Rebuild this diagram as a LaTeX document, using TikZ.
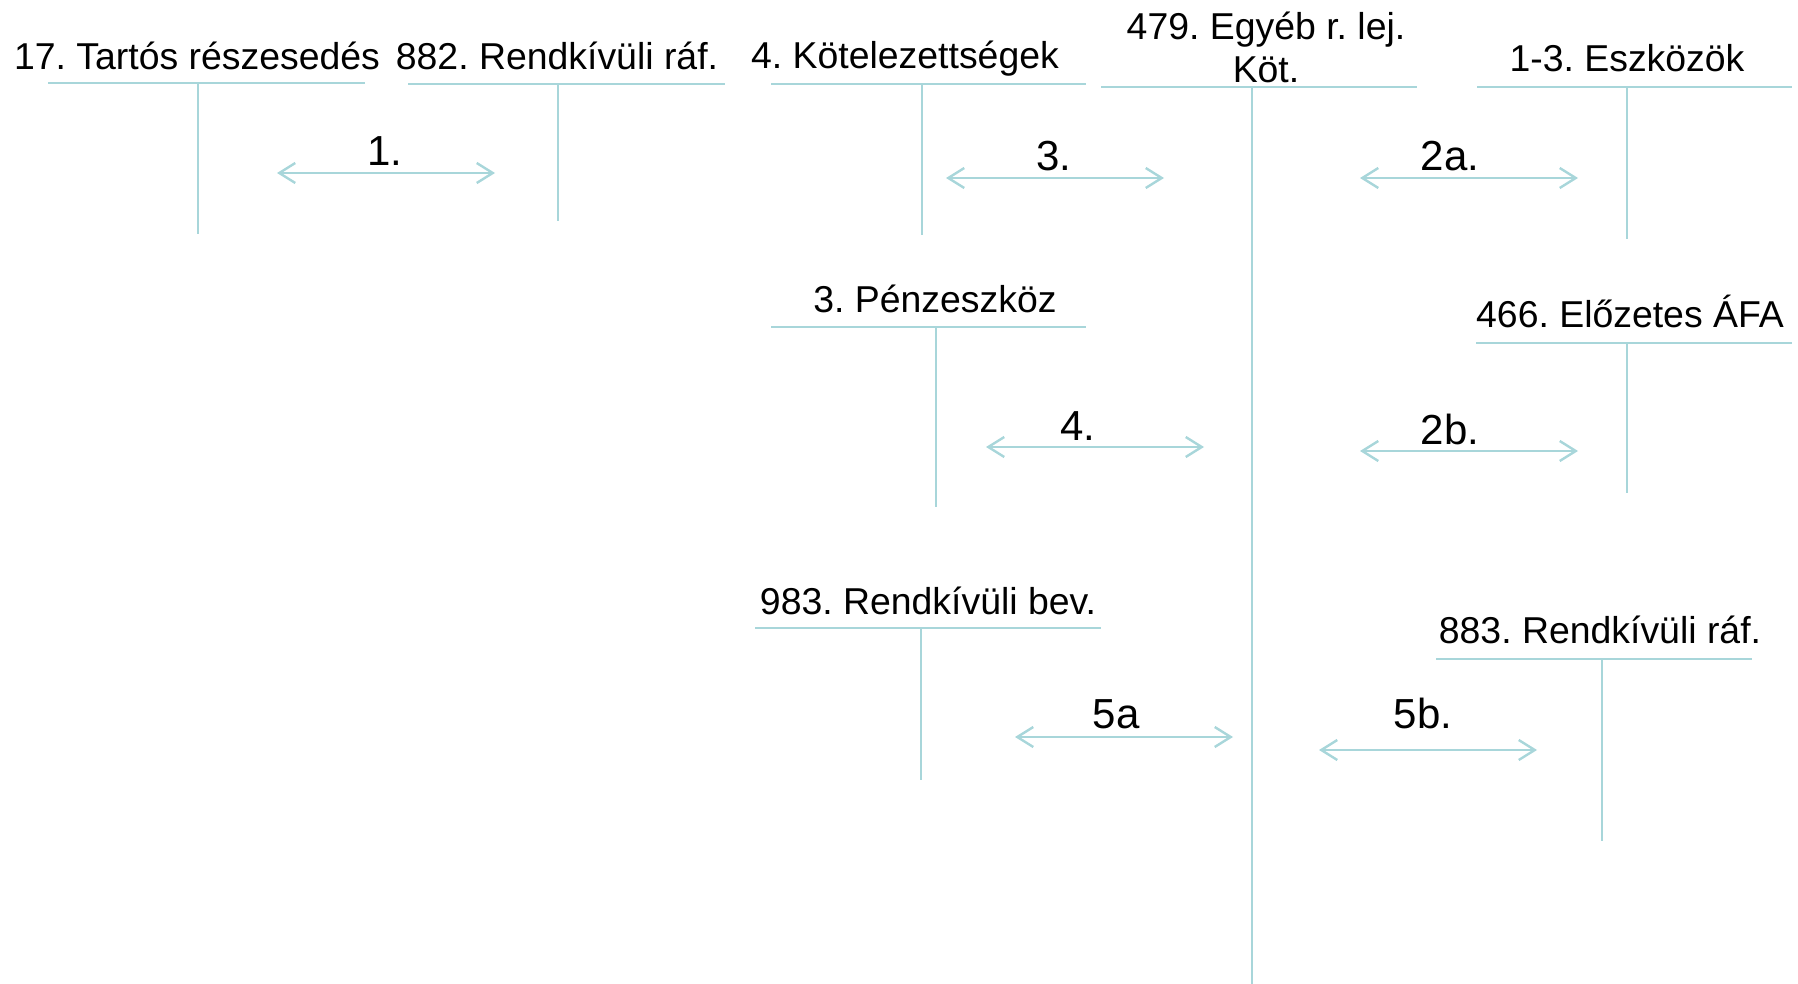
\documentclass[tikz,border=0pt]{standalone}
\usepackage{fontspec}
\setmainfont{Liberation Sans}
\usetikzlibrary{arrows.meta}
\definecolor{tc}{RGB}{168,214,218}
\frenchspacing
\begin{document}
\begin{tikzpicture}[x=0.5pt,y=-0.5pt,
  ttl/.style={font=\fontsize{18.7}{22}\selectfont, anchor=base, inner sep=0pt, text=black},
  lab/.style={font=\fontsize{21}{24}\selectfont, anchor=base, inner sep=0pt, text=black},
  tline/.style={draw=tc, line width=1.1pt},
  flow/.style={draw=tc, line width=1.2pt, {Straight Barb[length=8pt,width=10pt]}-{Straight Barb[length=8pt,width=10pt]}}]
\useasboundingbox (0,0) rectangle (1798,984);

% Account A: 17. Tartos reszesedes
\node[ttl] (tA) at (197,70) {17. Tartós részesedés};
\coordinate (Al) at (48,83); \coordinate (Ar) at (365,83);
\coordinate (At) at (198,83); \coordinate (Ab) at (198,234);
\draw[tline] (Al) -- (Ar); \draw[tline] (At) -- (Ab);

% Account B: 882. Rendkivuli raf.
\node[ttl] (tB) at (557,70) {882. Rendkívüli ráf.};
\coordinate (Bl) at (408,84); \coordinate (Br) at (725,84);
\coordinate (Bt) at (558,84); \coordinate (Bb) at (558,221);
\draw[tline] (Bl) -- (Br); \draw[tline] (Bt) -- (Bb);

% Account C: 4. Kotelezettsegek
\node[ttl] (tC) at (905,69) {4. Kötelezettségek};
\coordinate (Cl) at (771,84); \coordinate (Cr) at (1086,84);
\coordinate (Ct) at (922,84); \coordinate (Cb) at (922,235);
\draw[tline] (Cl) -- (Cr); \draw[tline] (Ct) -- (Cb);

% Account D: 479. Egyeb r. lej. Kot.
\node[ttl] (tD) at (1266,40) {479. Egyéb r. lej.};
\node[ttl] (tD2) at (1266,83) {Köt.};
\coordinate (Dl) at (1101,87); \coordinate (Dr) at (1417,87);
\coordinate (Dt) at (1252,87); \coordinate (Db) at (1252,984);
\draw[tline] (Dl) -- (Dr); \draw[tline] (Dt) -- (Db);

% Account E: 1-3. Eszkozok
\node[ttl] (tE) at (1627,72) {1-3. Eszközök};
\coordinate (El) at (1477,87); \coordinate (Er) at (1792,87);
\coordinate (Et) at (1627,87); \coordinate (Eb) at (1627,239);
\draw[tline] (El) -- (Er); \draw[tline] (Et) -- (Eb);

% Account F: 3. Penzeszkoz
\node[ttl] (tF) at (935,312) {3. Pénzeszköz};
\coordinate (Fl) at (771,327); \coordinate (Fr) at (1086,327);
\coordinate (Ft) at (936,327); \coordinate (Fb) at (936,507);
\draw[tline] (Fl) -- (Fr); \draw[tline] (Ft) -- (Fb);

% Account G: 466. Elozetes AFA
\node[ttl] (tG) at (1630,328) {466. Előzetes ÁFA};
\coordinate (Gl) at (1476,343); \coordinate (Gr) at (1792,343);
\coordinate (Gt) at (1627,343); \coordinate (Gb) at (1627,493);
\draw[tline] (Gl) -- (Gr); \draw[tline] (Gt) -- (Gb);

% Account H: 983. Rendkivuli bev.
\node[ttl] (tH) at (928,614) {983. Rendkívüli bev.};
\coordinate (Hl) at (755,628); \coordinate (Hr) at (1101,628);
\coordinate (Ht) at (921,628); \coordinate (Hb) at (921,780);
\draw[tline] (Hl) -- (Hr); \draw[tline] (Ht) -- (Hb);

% Account I: 883. Rendkivuli raf.
\node[ttl] (tI) at (1600,643) {883. Rendkívüli ráf.};
\coordinate (Il) at (1436,659); \coordinate (Ir) at (1752,659);
\coordinate (It) at (1602,659); \coordinate (Ib) at (1602,841);
\draw[tline] (Il) -- (Ir); \draw[tline] (It) -- (Ib);

% Flows
\coordinate (f1l) at (277,173); \coordinate (f1r) at (495,173);
\draw[flow] (f1l) -- (f1r);
\node[lab] (l1) at (385,166) {1.};

\coordinate (f3l) at (946,178); \coordinate (f3r) at (1164,178);
\draw[flow] (f3l) -- (f3r);
\node[lab] (l3) at (1054,171) {3.};

\coordinate (f2al) at (1360,178); \coordinate (f2ar) at (1578,178);
\draw[flow] (f2al) -- (f2ar);
\node[lab] (l2a) at (1450,171) {2a.};

\coordinate (f4l) at (986,447); \coordinate (f4r) at (1204,447);
\draw[flow] (f4l) -- (f4r);
\node[lab] (l4) at (1078,440) {4.};

\coordinate (f2bl) at (1360,451); \coordinate (f2br) at (1578,451);
\draw[flow] (f2bl) -- (f2br);
\node[lab] (l2b) at (1450,444) {2b.};

\coordinate (f5al) at (1015,737); \coordinate (f5ar) at (1233,737);
\draw[flow] (f5al) -- (f5ar);
\node[lab] (l5a) at (1116,728) {5a};

\coordinate (f5bl) at (1319,750); \coordinate (f5br) at (1537,750);
\draw[flow] (f5bl) -- (f5br);
\node[lab] (l5b) at (1423,728) {5b.};
\end{tikzpicture}
\end{document}
